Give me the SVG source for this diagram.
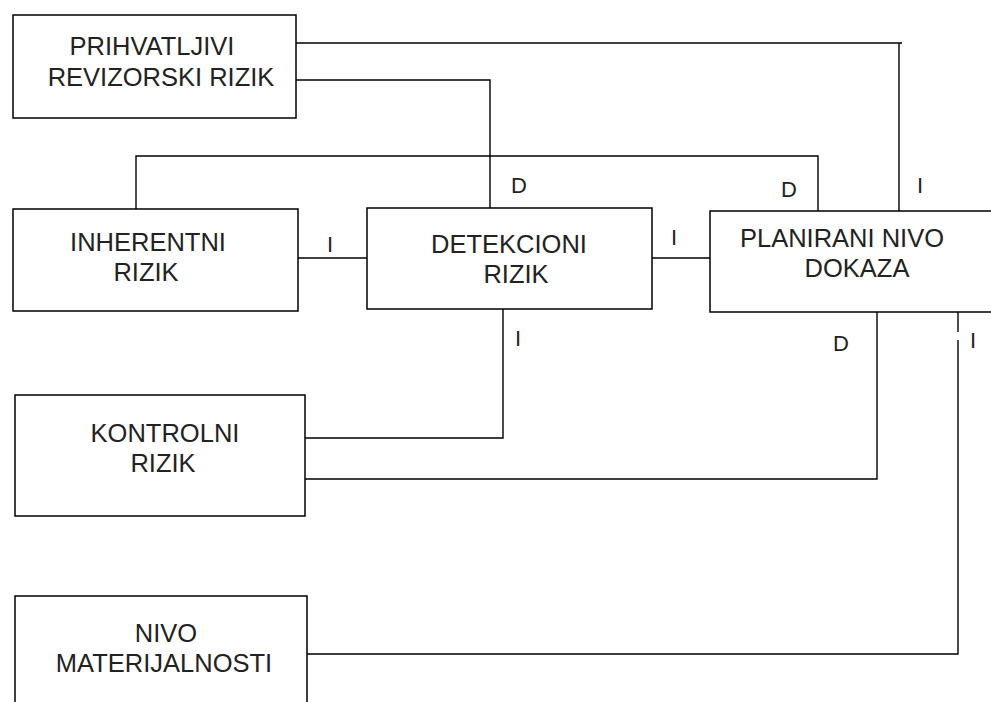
<svg xmlns="http://www.w3.org/2000/svg" width="991" height="702" viewBox="0 0 991 702">
<style>
.box{fill:#fff;stroke:#000;stroke-width:1.5}
.c{fill:none;stroke:#000;stroke-width:1.4}
text{font-family:"Liberation Sans",Arial,sans-serif;font-size:25.5px;fill:#222;text-anchor:middle}
.lbl{font-size:22px}
</style>
<rect width="991" height="702" fill="#fff"/>
<g id="connectors">
<polyline class="c" points="296,43 902,43"/>
<polyline class="c" points="899,43 899,211"/>
<polyline class="c" points="296,80 490,80 490,208"/>
<polyline class="c" points="136,209 136,156 818,156 818,211"/>
<polyline class="c" points="298,258 367,258"/>
<polyline class="c" points="652,258 710,258"/>
<polyline class="c" points="503,309 503,438 305,438"/>
<polyline class="c" points="305,479 877,479 877,312"/>
<polyline class="c" points="307,654 958,654 958,340"/>
<polyline class="c" points="958,312 958,332"/>
<text class="lbl" x="330" y="252">I</text>
<text class="lbl" x="519" y="193">D</text>
<text class="lbl" x="789" y="197">D</text>
<text class="lbl" x="920" y="193">I</text>
<text class="lbl" x="674" y="245">I</text>
<text class="lbl" x="518" y="346">I</text>
<text class="lbl" x="841" y="351">D</text>
<text class="lbl" x="973" y="348">I</text>
</g>
<g id="prihvatljivi">
<rect class="box" x="13" y="15" width="283" height="103"/>
<text x="152" y="55">PRIHVATLJIVI</text>
<text x="161" y="86">REVIZORSKI RIZIK</text>
</g>
<g id="inherentni">
<rect class="box" x="13" y="209" width="285" height="102"/>
<text x="148" y="251">INHERENTNI</text>
<text x="146" y="281">RIZIK</text>
</g>
<g id="detekcioni">
<rect class="box" x="367" y="208" width="285" height="101"/>
<text x="509" y="253">DETEKCIONI</text>
<text x="516" y="283">RIZIK</text>
</g>
<g id="planirani">
<rect class="box" x="710" y="211" width="290" height="101"/>
<text x="842" y="247">PLANIRANI NIVO</text>
<text x="857" y="277">DOKAZA</text>
</g>
<g id="kontrolni">
<rect class="box" x="15" y="395" width="290" height="121"/>
<text x="165" y="442">KONTROLNI</text>
<text x="163" y="472">RIZIK</text>
</g>
<g id="materijalnost">
<rect class="box" x="15" y="596" width="292" height="120"/>
<text x="166" y="642">NIVO</text>
<text x="164" y="672">MATERIJALNOSTI</text>
</g>
</svg>
